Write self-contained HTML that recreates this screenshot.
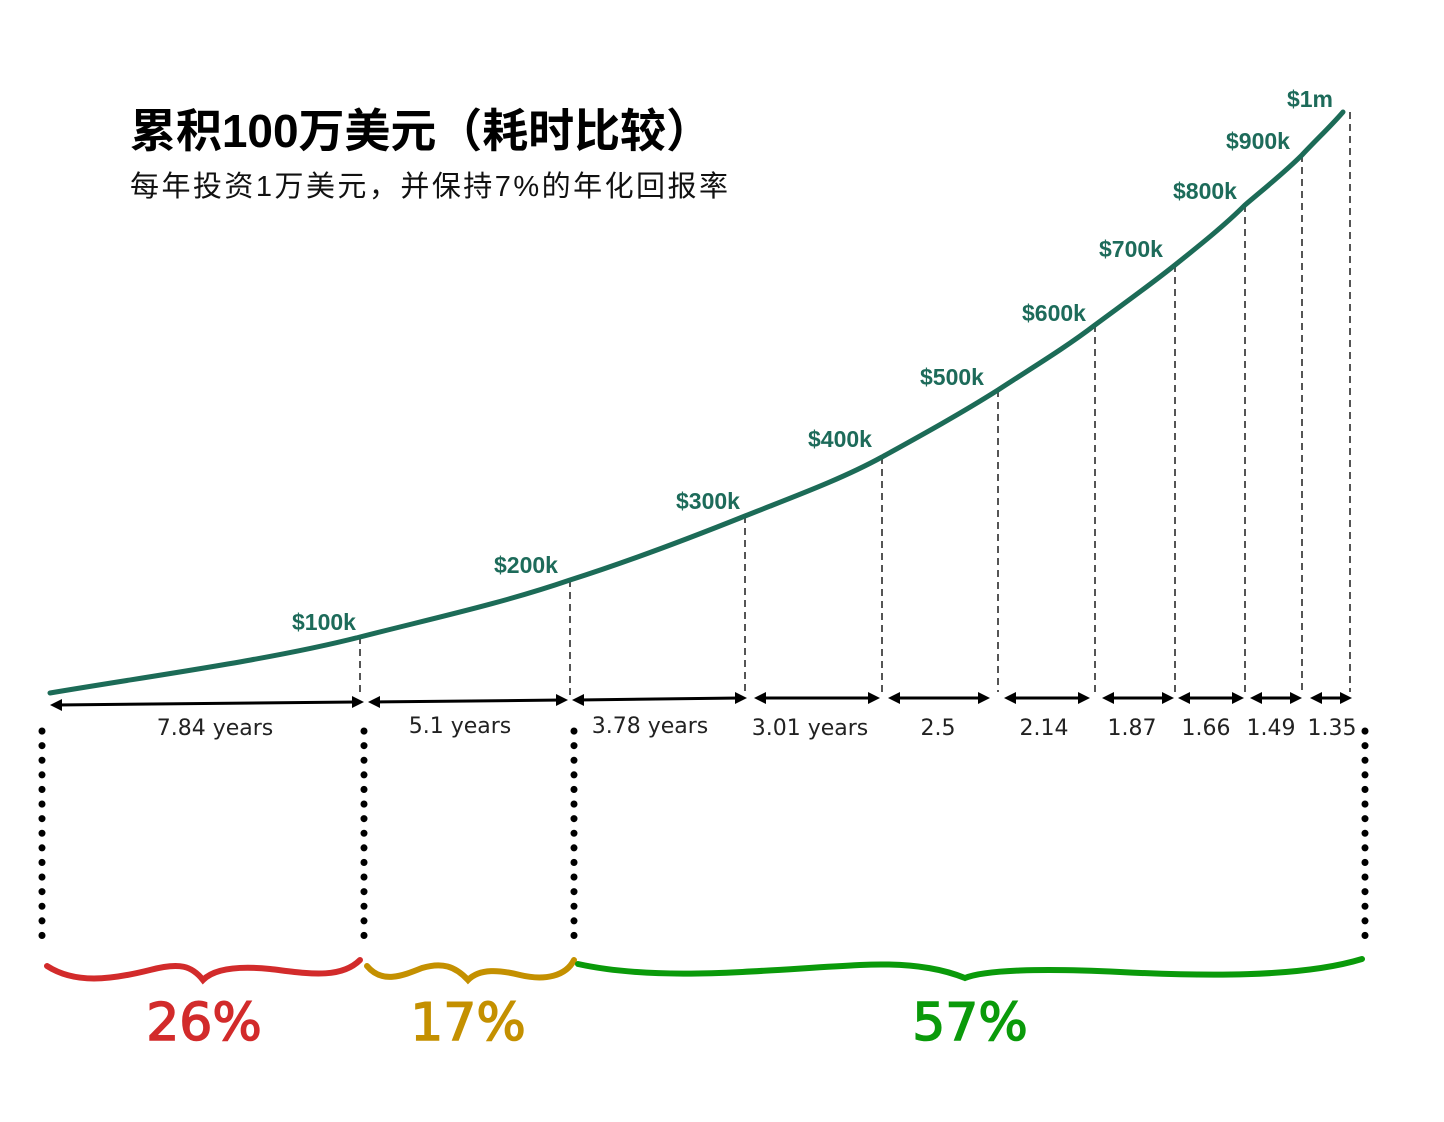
<!DOCTYPE html>
<html><head><meta charset="utf-8"><style>
html,body{margin:0;padding:0;background:#fff;width:1444px;height:1122px;overflow:hidden}
svg{display:block}
</style></head><body>
<svg width="1444" height="1122" viewBox="0 0 1444 1122" xmlns="http://www.w3.org/2000/svg">
<text x="130" y="147" font-family="Liberation Sans, Noto Sans CJK SC, sans-serif" font-size="46" font-weight="bold" fill="#000" textLength="582" lengthAdjust="spacing">累积100万美元（耗时比较）</text>
<text x="130" y="196" font-family="Liberation Sans, Noto Sans CJK SC, sans-serif" font-size="29" fill="#111" textLength="598" lengthAdjust="spacing">每年投资1万美元，并保持7%的年化回报率</text>

<g stroke="#555" stroke-width="2" stroke-dasharray="7,5" fill="none">
<line x1="360" y1="637" x2="360" y2="695"/>
<line x1="570" y1="580" x2="570" y2="695"/>
<line x1="745" y1="516" x2="745" y2="692"/>
<line x1="882" y1="457" x2="882" y2="692"/>
<line x1="998" y1="390" x2="998" y2="692"/>
<line x1="1095" y1="325" x2="1095" y2="692"/>
<line x1="1175" y1="265" x2="1175" y2="692"/>
<line x1="1245" y1="205" x2="1245" y2="692"/>
<line x1="1302" y1="155" x2="1302" y2="692"/>
<line x1="1350" y1="112" x2="1350" y2="692"/>
</g>
<path d="M50,693 C150,676 270,660 360,637 C430,619 500,604 570,580 C630,561 690,538 745,516 C790,498 840,480 882,457 C920,436 960,414 998,390 C1030,369 1065,348 1095,325 C1122,305 1150,285 1175,265 C1200,245 1225,225 1245,205 C1265,188 1285,172 1302,155 C1318,138 1332,125 1343,112" stroke="#1c6b57" stroke-width="5" fill="none" stroke-linecap="round"/>

<g font-family="Liberation Sans, DejaVu Sans, sans-serif" font-size="23" font-weight="bold" fill="#1d6b5a" text-anchor="middle">
<text x="324" y="630">$100k</text>
<text x="526" y="573">$200k</text>
<text x="708" y="509">$300k</text>
<text x="840" y="447">$400k</text>
<text x="952" y="385">$500k</text>
<text x="1054" y="321">$600k</text>
<text x="1131" y="257">$700k</text>
<text x="1205" y="199">$800k</text>
<text x="1258" y="149">$900k</text>
<text x="1310" y="107">$1m</text>
</g>

<g stroke="#000" stroke-width="3" fill="#000">
<line x1="56" y1="705" x2="356" y2="702"/><polygon points="50,705 62,699 62,711" stroke="none"/><polygon points="364,702 352,696 352,708" stroke="none"/>
<line x1="374" y1="702" x2="562" y2="700"/><polygon points="368,702 380,696 380,708" stroke="none"/><polygon points="568,700 556,694 556,706" stroke="none"/>
<line x1="578" y1="700" x2="740" y2="698"/><polygon points="572,700 584,694 584,706" stroke="none"/><polygon points="747,698 735,692 735,704" stroke="none"/>
<line x1="760" y1="698" x2="874" y2="698"/><polygon points="754,698 766,692 766,704" stroke="none"/><polygon points="880,698 868,692 868,704" stroke="none"/>
<line x1="894" y1="698" x2="984" y2="698"/><polygon points="888,698 900,692 900,704" stroke="none"/><polygon points="990,698 978,692 978,704" stroke="none"/>
<line x1="1010" y1="698" x2="1084" y2="698"/><polygon points="1004,698 1016,692 1016,704" stroke="none"/><polygon points="1090,698 1078,692 1078,704" stroke="none"/>
<line x1="1108" y1="698" x2="1168" y2="698"/><polygon points="1102,698 1114,692 1114,704" stroke="none"/><polygon points="1174,698 1162,692 1162,704" stroke="none"/>
<line x1="1184" y1="698" x2="1238" y2="698"/><polygon points="1178,698 1190,692 1190,704" stroke="none"/><polygon points="1244,698 1232,692 1232,704" stroke="none"/>
<line x1="1256" y1="698" x2="1296" y2="698"/><polygon points="1250,698 1262,692 1262,704" stroke="none"/><polygon points="1302,698 1290,692 1290,704" stroke="none"/>
<line x1="1316" y1="698" x2="1346" y2="698"/><polygon points="1310,698 1322,692 1322,704" stroke="none"/><polygon points="1352,698 1340,692 1340,704" stroke="none"/>
</g>

<g font-family="DejaVu Sans, Liberation Sans, sans-serif" font-size="22" fill="#222" text-anchor="middle">
<text x="215" y="735">7.84 years</text>
<text x="460" y="733">5.1 years</text>
<text x="650" y="733">3.78 years</text>
<text x="810" y="735">3.01 years</text>
<text x="938" y="735">2.5</text>
<text x="1044" y="735">2.14</text>
<text x="1132" y="735">1.87</text>
<text x="1206" y="735">1.66</text>
<text x="1271" y="735">1.49</text>
<text x="1332" y="735">1.35</text>
</g>

<g stroke="#000" stroke-width="7" stroke-linecap="round" stroke-dasharray="0.1,14.5" fill="none">
<line x1="42" y1="731" x2="42" y2="948"/>
<line x1="364" y1="731" x2="364" y2="948"/>
<line x1="574" y1="731" x2="574" y2="948"/>
<line x1="1365" y1="731" x2="1365" y2="948"/>
</g>

<g fill="none" stroke-linecap="round" stroke-width="6">
<path d="M47,966 C75,984 110,980 150,970 C180,962 192,966 203,980 C215,968 240,966 270,969 C305,973 340,980 360,960" stroke="#d22b2b"/>
<path d="M367,966 C382,984 402,976 422,968 C442,962 455,966 468,980 C480,968 500,970 520,975 C545,981 566,976 574,960" stroke="#c49000"/>
<path d="M578,964 C660,982 760,970 860,965 C920,962 950,972 965,978 C985,970 1040,968 1120,972 C1200,976 1300,978 1362,959" stroke="#0a9a0a"/>
</g>

<g font-family="DejaVu Sans, Liberation Sans, sans-serif" font-size="52" text-anchor="middle" stroke-width="1.5">
<text x="204" y="1040" fill="#d22b2b" stroke="#d22b2b">26%</text>
<text x="468" y="1040" fill="#c49000" stroke="#c49000">17%</text>
<text x="970" y="1040" fill="#0a9a0a" stroke="#0a9a0a">57%</text>
</g>
</svg>
</body></html>
